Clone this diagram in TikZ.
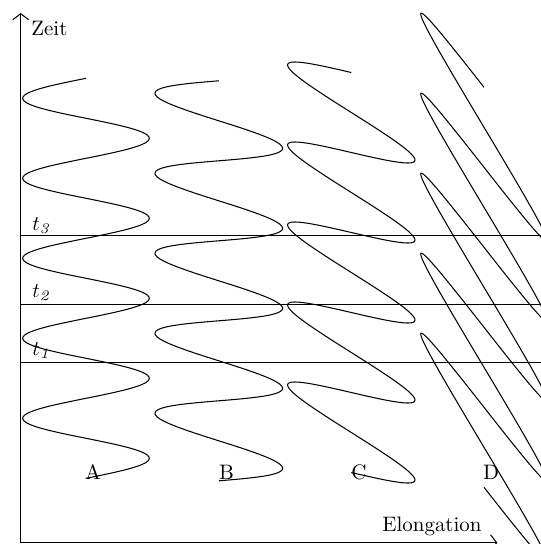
\documentclass[tikz,border=0pt]{standalone}
\usepackage{amsmath}
\usepackage{tikz}
\usetikzlibrary{arrows.meta}

\begin{document}
\begin{tikzpicture}[
    x=0.0168cm, y=-0.0168cm,
    axis/.style={-{Straight Barb[length=2.9pt, width=7.6pt]}, line width=0.5pt},
    tline/.style={line width=0.45pt},
    wave/.style={line width=0.5pt, samples=401, domain=0:400},
    lbl/.style={inner sep=0pt},
  ]
  % --- fixed frame of the picture, everything outside is cut off ---
  \useasboundingbox (0,0) rectangle (541,544);
  \clip (0,0) rectangle (541,544);

  % --- axes ---
  \coordinate (orig) at (20.7,542.7);
  \coordinate (ytop) at (20.7,13);
  \coordinate (xend) at (497.3,542.7);
  \draw[axis] (orig) -- (ytop);
  \draw[axis] (orig) -- (xend);
  \node[lbl, anchor=base west] (zeit) at (31,35) {Zeit};
  \node[lbl, anchor=base west] (elong) at (382,531) {Elongation};

  % --- time marks t1, t2, t3 (run out of the frame on the right) ---
  \coordinate (t3a) at (20.7,235.5); \coordinate (t3b) at (545,235.5);
  \coordinate (t2a) at (20.7,304.5); \coordinate (t2b) at (545,304.5);
  \coordinate (t1a) at (20.7,362.5); \coordinate (t1b) at (545,362.5);
  \draw[tline] (t3a) -- (t3b);
  \draw[tline] (t2a) -- (t2b);
  \draw[tline] (t1a) -- (t1b);
  \node[lbl, anchor=base west] (t3) at (32,230.5) {$t_{\mathit{3}}$};
  \node[lbl, anchor=base west] (t2) at (32,297.5) {$t_{\mathit{2}}$};
  \node[lbl, anchor=base west] (t1) at (32,355.5) {$t_{\mathit{1}}$};

  % --- oscillations, growing shear from A to D ---
  \draw[wave] plot ({86 - 63.3*sin(4.5*\x)}, {78.3 + \x});
  \draw[wave] plot ({218.8 - 63.8*sin(4.5*\x)}, {80.8 + \x - 7.5*sin(4.5*\x)});
  \draw[wave] plot ({351.3 - 63.7*sin(4.5*\x)}, {72.5 + \x - 27.5*sin(4.5*\x)});
  \draw[wave] plot ({484 - 63.3*sin(4.5*\x)}, {87.3 + \x - 93.3*sin(4.5*\x)});

  \node[lbl] (labA) at (93,472.5) {A};
  \node[lbl] (labB) at (226.5,472) {B};
  \node[lbl] (labC) at (359,472) {C};
  \node[lbl] (labD) at (491,472) {D};
\end{tikzpicture}
\end{document}
